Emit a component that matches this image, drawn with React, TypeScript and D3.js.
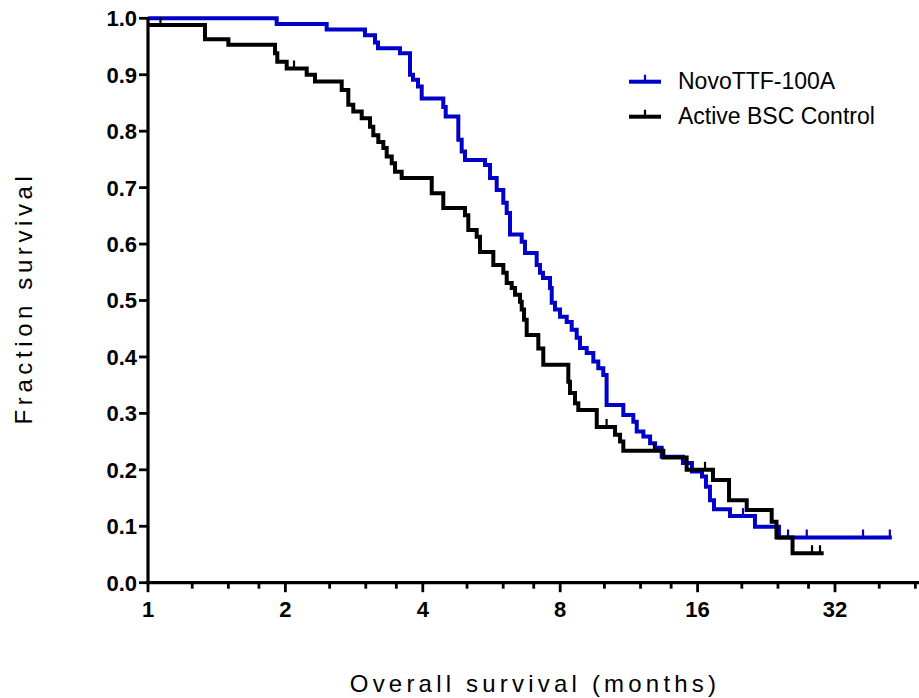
import React from 'react';
import * as d3 from 'd3';

// ---- Data (months, fraction surviving) ----
const xMajorTicks = [1, 2, 4, 8, 16, 32];
const xMinorTicks = [1.25, 1.5, 1.75, 2.5, 3, 3.5, 5, 6, 7, 10, 12, 14, 20, 24, 28, 40, 48];
const yTicks = [0, 0.1, 0.2, 0.3, 0.4, 0.5, 0.6, 0.7, 0.8, 0.9, 1.0];
const yTickLabels = ['0.0', '0.1', '0.2', '0.3', '0.4', '0.5', '0.6', '0.7', '0.8', '0.9', '1.0'];

const seriesNames = ['NovoTTF-100A', 'Active BSC Control'];

// NovoTTF-100A: event times and survival after each event
const novoTimes = [
  1.914, 2.463, 2.988, 3.143, 3.191, 3.565, 3.75, 3.807, 3.904, 3.978,
  4.436, 4.49, 4.785, 4.867, 4.949, 5.475, 5.615, 5.807, 6.004, 6.108,
  6.21, 6.588, 6.699, 7.105, 7.225, 7.335, 7.6, 7.665, 7.793, 7.993,
  8.267, 8.478, 8.694, 8.84, 9.145, 9.455, 9.695, 9.943, 10.11, 11.0,
  11.57, 11.77, 12.17, 12.59, 12.91, 13.35, 14.86, 15.55, 16.36, 16.69,
  17.03, 17.38, 18.84, 21.37, 24.12,
];
const novoSurv = [
  0.990, 0.980, 0.970, 0.957, 0.947, 0.938, 0.900, 0.891, 0.879, 0.858,
  0.843, 0.826, 0.785, 0.764, 0.749, 0.740, 0.717, 0.696, 0.673, 0.655,
  0.617, 0.604, 0.584, 0.563, 0.549, 0.540, 0.522, 0.496, 0.484, 0.471,
  0.462, 0.448, 0.434, 0.416, 0.407, 0.392, 0.380, 0.368, 0.315, 0.297,
  0.285, 0.268, 0.259, 0.247, 0.239, 0.223, 0.212, 0.197, 0.188, 0.170,
  0.146, 0.130, 0.118, 0.099, 0.080,
];
const novoCensor = [20.12, 25.25, 27.75, 36.86, 42.2];
const novoEnd = 42.2;

// Active BSC Control
const bscTimes = [
  0.9, 1.333, 1.5, 1.898, 1.92, 2.013, 2.227, 2.322, 2.657, 2.747,
  2.817, 2.939, 3.065, 3.116, 3.196, 3.278, 3.334, 3.42, 3.477, 3.596,
  4.184, 4.436, 4.949, 5.032, 5.25, 5.338, 5.709, 6.004, 6.108, 6.264,
  6.37, 6.532, 6.588, 6.666, 6.756, 7.164, 7.346, 8.334, 8.405, 8.62,
  8.766, 9.62, 10.55, 10.82, 11.0, 13.46, 15.14, 17.29, 18.75, 20.5,
  23.25, 23.82, 25.83,
];
const bscSurv = [
  0.988, 0.963, 0.953, 0.938, 0.923, 0.911, 0.900, 0.888, 0.873, 0.847,
  0.835, 0.823, 0.808, 0.793, 0.781, 0.770, 0.755, 0.743, 0.728, 0.717,
  0.690, 0.664, 0.651, 0.625, 0.613, 0.586, 0.563, 0.549, 0.531, 0.522,
  0.510, 0.498, 0.484, 0.466, 0.439, 0.415, 0.386, 0.356, 0.336, 0.318,
  0.306, 0.276, 0.262, 0.250, 0.234, 0.222, 0.200, 0.182, 0.146, 0.129,
  0.108, 0.080, 0.052,
];
const bscCensor = [1.065, 2.089, 10.11, 12.84, 16.61, 28.5, 29.67];
const bscEnd = 29.92;

const seriesColors = ['#0000c8', '#000000'];

// ---- Layout ----
const W = 919;
const H = 698;
const X0 = 148;
const PX_PER_DOUBLING = 137.4;
const XMAX = 50;
const Y_BOTTOM = 582.7;
const Y_TOP = 18.3;

const x = d3.scaleLog().base(2).domain([1, XMAX]).range([X0, X0 + PX_PER_DOUBLING * Math.log2(XMAX)]);
const y = d3.scaleLinear().domain([0, 1]).range([Y_BOTTOM, Y_TOP]);

function survAt(times: number[], surv: number[], t: number) {
  const i = d3.bisectRight(times, t);
  return i === 0 ? 1 : surv[i - 1];
}

function stepPath(times: number[], surv: number[], end: number) {
  const pts: [number, number][] = [[0.5, 1]];
  times.forEach((t, i) => pts.push([t, surv[i]]));
  pts.push([end, surv[surv.length - 1]]);
  const line = d3
    .line<[number, number]>()
    .x((d) => x(d[0]))
    .y((d) => y(d[1]))
    .curve(d3.curveStepAfter);
  return line(pts) || '';
}

const series = [
  { name: seriesNames[0], color: seriesColors[0], times: novoTimes, surv: novoSurv, censor: novoCensor, end: novoEnd },
  { name: seriesNames[1], color: seriesColors[1], times: bscTimes, surv: bscSurv, censor: bscCensor, end: bscEnd },
];

const FONT = '"Liberation Sans", Arial, sans-serif';

export default function App() {
  return (
    <svg
      width={W}
      height={H}
      style={{ position: 'absolute', left: 0, top: 0, background: '#fff' }}
    >
      <defs>
        <clipPath id="plotClip">
          <rect x={X0} y={0} width={W - X0} height={Y_BOTTOM + 2} />
        </clipPath>
      </defs>

      {/* curves */}
      <g clipPath="url(#plotClip)">
        {series.map((s) => (
          <g key={s.name}>
            <path d={stepPath(s.times, s.surv, s.end)} fill="none" stroke={s.color} strokeWidth={4} strokeLinejoin="miter" strokeLinecap="square" />
            {s.censor.map((c, i) => {
              const sv = survAt(s.times, s.surv, c);
              return (
                <line key={i} x1={x(c)} x2={x(c)} y1={y(sv)} y2={y(sv) - 8} stroke={s.color} strokeWidth={2.2} />
              );
            })}
          </g>
        ))}
      </g>

      {/* y axis */}
      <line x1={X0} x2={X0} y1={Y_TOP - 1} y2={Y_BOTTOM + 1.5} stroke="#000" strokeWidth={3.2} />
      {yTicks.map((v, i) => (
        <g key={v}>
          <line x1={X0 - 9} x2={X0} y1={y(v)} y2={y(v)} stroke="#000" strokeWidth={2.8} />
          <text x={137} y={y(v)} dy="0.36em" textAnchor="end" fontFamily={FONT} fontWeight="bold" fontSize={22} fill="#000">
            {yTickLabels[i]}
          </text>
        </g>
      ))}

      {/* x axis */}
      <line x1={X0 - 1.5} x2={W} y1={Y_BOTTOM} y2={Y_BOTTOM} stroke="#000" strokeWidth={3.2} />
      {xMinorTicks.map((v) => (
        <line key={'m' + v} x1={x(v)} x2={x(v)} y1={Y_BOTTOM} y2={Y_BOTTOM + 6} stroke="#000" strokeWidth={2.8} />
      ))}
      {xMajorTicks.map((v) => (
        <g key={v}>
          <line x1={x(v)} x2={x(v)} y1={Y_BOTTOM} y2={Y_BOTTOM + 9.5} stroke="#000" strokeWidth={2.8} />
          <text x={x(v)} y={617} textAnchor="middle" fontFamily={FONT} fontWeight="bold" fontSize={22} fill="#000">
            {String(v)}
          </text>
        </g>
      ))}

      {/* axis titles */}
      <text x={535} y={692} textAnchor="middle" fontFamily={FONT} fontSize={24} letterSpacing={4.2} fill="#000">
        Overall survival (months)
      </text>
      <text
        transform={`translate(32, 298) rotate(-90)`}
        textAnchor="middle"
        fontFamily={FONT}
        fontSize={24}
        letterSpacing={4.6}
        fill="#000"
      >
        Fraction survival
      </text>

      {/* legend */}
      {series.map((s, i) => {
        const ly = 81.7 + i * 35;
        return (
          <g key={'lg' + s.name}>
            <line x1={629} x2={661} y1={ly} y2={ly} stroke={s.color} strokeWidth={4} />
            <line x1={645} x2={645} y1={ly} y2={ly - 7} stroke={s.color} strokeWidth={2.2} />
            <text x={678} y={ly + 7} fontFamily={FONT} fontSize={23} fill="#000">
              {s.name}
            </text>
          </g>
        );
      })}
    </svg>
  );
}
